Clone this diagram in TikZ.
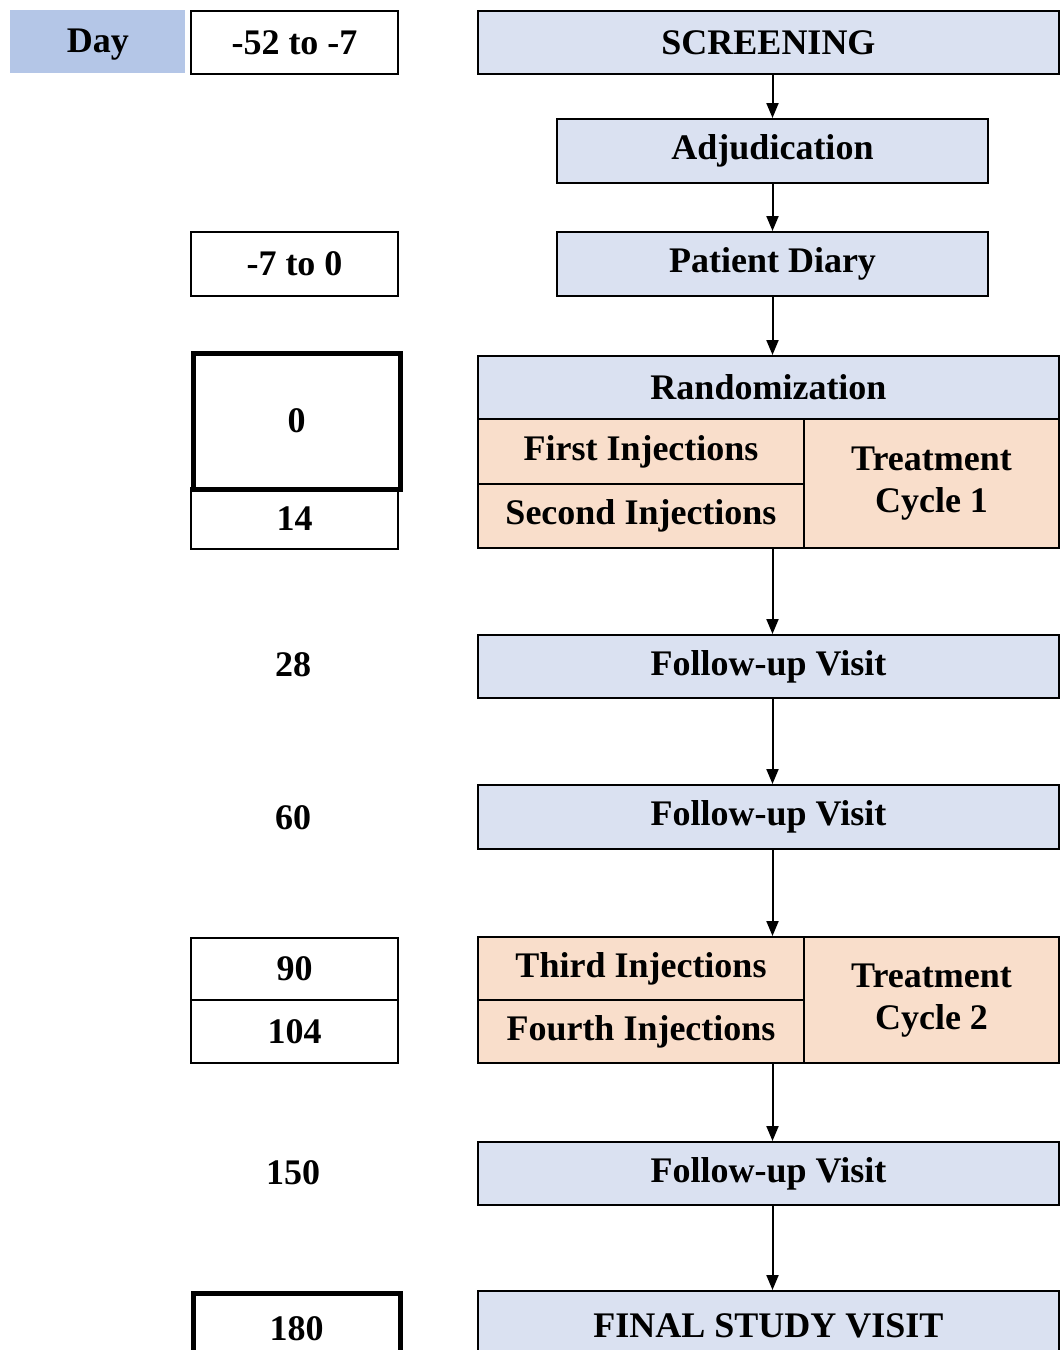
\documentclass[tikz,border=0pt]{standalone}
\usepackage{fontspec}
\setmainfont{Liberation Serif}
\usetikzlibrary{arrows.meta}
\definecolor{phaseblue}{RGB}{218,225,241}
\definecolor{dayblue}{RGB}{180,198,231}
\definecolor{injpeach}{RGB}{249,222,203}
\newcommand{\cyclabel}[1]{\raisebox{3.5pt}{\begin{tabular}{@{}c@{}}Treatment\\Cycle #1\end{tabular}}}
\tikzset{
  cell/.style={anchor=north west,inner sep=0pt,font=\fontsize{18}{21}\selectfont\bfseries},
  daybox/.style={cell,draw,line width=1pt,fill=white},
  phase/.style={cell,draw,line width=1pt,fill=phaseblue},
  inject/.style={cell,draw,line width=1pt,fill=injpeach,align=center},
  daytext/.style={font=\fontsize{18}{21}\selectfont\bfseries},
  arr/.style={line width=1pt,-{Triangle[length=7.5pt,width=6pt]}}
}
\begin{document}
\begin{tikzpicture}[x=0.5pt,y=-0.5pt]
		\useasboundingbox (0,0) rectangle (1060,1350);
		% day column
		\node[cell,fill=dayblue,minimum width=87.5pt,minimum height=31.5pt,text depth=1pt] (day) at (10,10) {Day};
		\node[daybox,minimum width=103.5pt,minimum height=31.5pt] (d1) at (190,10) {-52 to -7};
		\node[daybox,minimum width=103.5pt,minimum height=32pt] (d2) at (190,231) {-7 to 0};
		\node[daybox,minimum width=103.5pt,minimum height=30.5pt] (d14) at (190,487) {14};
		\node[daybox,line width=2.5pt,minimum width=103.5pt,minimum height=68pt] (d0) at (190.5,350.5) {0};
		\node[daytext] (t28) at (293,665) {28};
		\node[daytext] (t60) at (293,818) {60};
		\node[daybox,minimum width=103.5pt,minimum height=31pt] (d90) at (190,937) {90};
		\node[daybox,minimum width=103.5pt,minimum height=31.5pt] (d104) at (190,999) {104};
		\node[daytext] (t150) at (293,1173) {150};
		\node[daybox,line width=2.5pt,minimum width=103.5pt,minimum height=35pt] (d180) at (190.5,1291) {180};
		% study flow
		\node[phase,minimum width=290.5pt,minimum height=31.5pt] (scr) at (477,10) {SCREENING};
		\node[phase,minimum width=215.5pt,minimum height=32pt] (adj) at (556,118) {Adjudication};
		\node[phase,minimum width=215.5pt,minimum height=32pt] (diary) at (556,231) {Patient Diary};
		\node[phase,minimum width=290.5pt,minimum height=31.5pt] (rand) at (477,355) {Randomization};
		\node[inject,minimum width=163pt,minimum height=32.5pt] (inj1) at (477,418) {First Injections};
		\node[inject,minimum width=163pt,minimum height=32pt] (inj2) at (477,483) {Second Injections};
		\node[inject,minimum width=127.5pt,minimum height=64.5pt] (cyc1) at (803,418) {\cyclabel{1}};
		\node[phase,minimum width=290.5pt,minimum height=31.5pt] (fu1) at (477,634) {Follow-up Visit};
		\node[phase,minimum width=290.5pt,minimum height=32pt] (fu2) at (477,784) {Follow-up Visit};
		\node[inject,minimum width=163pt,minimum height=31.5pt] (inj3) at (477,936) {Third Injections};
		\node[inject,minimum width=163pt,minimum height=31.5pt] (inj4) at (477,999) {Fourth Injections};
		\node[inject,minimum width=127.5pt,minimum height=63pt] (cyc2) at (803,936) {\cyclabel{2}};
		\node[phase,minimum width=290.5pt,minimum height=31.5pt] (fu3) at (477,1141) {Follow-up Visit};
		\node[phase,minimum width=290.5pt,minimum height=35pt] (final) at (477,1290) {FINAL STUDY VISIT};
		% arrows
		\draw[arr] (scr.south -| adj.south) -- (adj.north);
		\draw[arr] (adj.south) -- (diary.north);
		\draw[arr] (diary.south) -- (diary.south |- rand.north);
		\draw[arr] (inj2.south -| adj.south) -- (fu1.north -| adj.south);
		\draw[arr] (fu1.south -| adj.south) -- (fu2.north -| adj.south);
		\draw[arr] (fu2.south -| adj.south) -- (inj3.north -| adj.south);
		\draw[arr] (inj4.south -| adj.south) -- (fu3.north -| adj.south);
		\draw[arr] (fu3.south -| adj.south) -- (final.north -| adj.south);
	\end{tikzpicture}
\end{document}
